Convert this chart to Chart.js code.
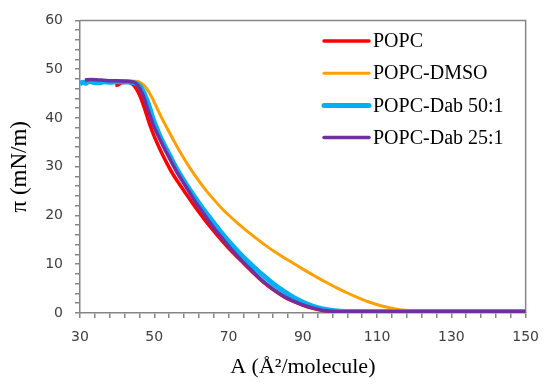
<!DOCTYPE html>
<html>
<head>
<meta charset="utf-8">
<script src="https://cdn.jsdelivr.net/npm/chart.js@4"></script>
<style>
  html, body { margin: 0; padding: 0; background: #fff; }
</style>
</head>
<body>
<canvas id="isoChart" width="550" height="387"></canvas>
<script>
// isotherm data: area per molecule (A) vs surface pressure (pi)
const seriesLabels = ['POPC', 'POPC-DMSO', 'POPC-Dab 50:1', 'POPC-Dab 25:1'];

const popcA  = [39.5, 40.3, 41.2, 43, 44.3, 45.2, 46.1, 47.4, 48.8, 50.1, 51.4, 53.2, 55, 56.8, 58.6, 60.5, 62.5, 64.5, 67, 70, 73, 76, 79, 82, 85, 88, 91, 94, 97, 100, 150];
const popcPi = [46.7, 46.8, 47.2, 47.3, 46.8, 45.9, 44.6, 41.9, 38.6, 36.0, 33.8, 31.0, 28.5, 26.4, 24.4, 22.3, 20.2, 18.2, 15.9, 13.3, 11.0, 8.7, 6.6, 4.8, 3.3, 2.2, 1.3, 0.7, 0.35, 0.2, 0.2];

const dmsoA  = [38, 42, 45, 46.1, 47.2, 48.3, 49.5, 50.5, 52, 54, 56, 58, 60, 62, 64, 66, 68, 70, 72.5, 75, 78, 81, 84, 87, 90, 93, 96, 99, 102, 105, 108, 111, 114, 117, 120, 125, 150];
const dmsoPi = [47.5, 47.5, 47.5, 47.3, 46.7, 45.6, 44.0, 42.4, 40.0, 37.1, 34.3, 31.7, 29.3, 27.1, 25.1, 23.3, 21.6, 20.1, 18.4, 16.8, 15.0, 13.3, 11.8, 10.4, 9.0, 7.7, 6.4, 5.2, 4.1, 3.1, 2.2, 1.5, 1.0, 0.6, 0.4, 0.3, 0.3];

const dab50A  = [30, 30.8, 31.5, 32.5, 33.5, 35, 36.5, 38, 40, 42, 44, 45, 46.1, 47, 47.9, 48.8, 49.6, 50.5, 51.4, 52.7, 54.1, 55.5, 56.8, 58.6, 60.5, 62.5, 64.5, 66.5, 68.5, 70.5, 73, 76, 79, 82, 85, 88, 91, 94, 97, 100, 104, 150];
const dab50Pi = [47.0, 47.3, 47.1, 47.5, 47.3, 47.2, 47.4, 47.3, 47.4, 47.4, 47.3, 47.1, 46.6, 45.5, 43.9, 42.0, 40.0, 38.2, 36.5, 34.4, 32.4, 30.3, 28.6, 26.4, 24.2, 22.0, 20.0, 18.0, 16.1, 14.3, 12.2, 10.0, 7.9, 6.0, 4.4, 3.0, 1.9, 1.1, 0.6, 0.35, 0.3, 0.3];

const dab25A  = [31.3, 33, 35, 37, 40, 43, 44.3, 45.2, 46.1, 47, 47.9, 48.8, 49.6, 50.5, 51.9, 53.2, 54.6, 56, 57.7, 59.5, 61.3, 63.2, 65.5, 68, 70.5, 73, 76, 79, 82, 85, 88, 91, 94, 97, 100, 150];
const dab25Pi = [47.8, 47.9, 47.8, 47.7, 47.6, 47.5, 47.4, 47.0, 46.0, 44.6, 42.6, 40.6, 38.8, 37.2, 35.0, 33.0, 31.0, 29.0, 26.9, 24.7, 22.5, 20.5, 18.0, 15.6, 13.3, 11.2, 8.9, 6.7, 4.9, 3.4, 2.3, 1.4, 0.8, 0.4, 0.25, 0.25];

const xMin = 30, xMax = 150, xStep = 4, xLabelStep = 20;
const yMin = 0, yMax = 60, yStep = 2, yLabelStep = 10;

const toPoints = (xs, ys) => xs.map((x, i) => ({ x: x, y: ys[i] }));

const axisGray = '#868686';
const serif = '"Liberation Serif", "Times New Roman", serif';

// box around plot area (top + right edges)
const framePlugin = {
  id: 'frame',
  beforeDatasetsDraw(chart) {
    const { ctx, chartArea: a } = chart;
    ctx.save();
    ctx.strokeStyle = axisGray;
    ctx.lineWidth = 1.5;
    ctx.beginPath();
    ctx.moveTo(a.left, a.top);
    ctx.lineTo(a.right, a.top);
    ctx.lineTo(a.right, a.bottom);
    ctx.stroke();
    ctx.restore();
  }
};

// legend drawn inside the plot, top right
const insideLegend = {
  id: 'insideLegend',
  afterDraw(chart) {
    const ctx = chart.ctx;
    ctx.save();
    ctx.font = '20px ' + serif;
    ctx.textBaseline = 'middle';
    ctx.fillStyle = '#000';
    chart.data.datasets.forEach((ds, i) => {
      const y = 41 + i * 32.2;
      ctx.strokeStyle = ds.borderColor;
      ctx.lineWidth = ds.borderWidth;
      ctx.lineCap = 'round';
      ctx.beginPath();
      ctx.moveTo(324, y);
      ctx.lineTo(369, y);
      ctx.stroke();
      ctx.fillText(ds.label, 373, y + 1);
    });
    ctx.restore();
  }
};

const ctx = document.getElementById('isoChart').getContext('2d');
new Chart(ctx, {
  type: 'line',
  data: {
    datasets: [
      { label: seriesLabels[0], data: toPoints(popcA, popcPi),   borderColor: '#FF0000', borderWidth: 3.5, order: 4 },
      { label: seriesLabels[1], data: toPoints(dmsoA, dmsoPi),   borderColor: '#FFA000', borderWidth: 3, order: 3 },
      { label: seriesLabels[2], data: toPoints(dab50A, dab50Pi), borderColor: '#00B0F0', borderWidth: 5, order: 2 },
      { label: seriesLabels[3], data: toPoints(dab25A, dab25Pi), borderColor: '#7030A0', borderWidth: 3.5, order: 1 },
    ].map(ds => Object.assign(ds, { pointRadius: 0, fill: false, cubicInterpolationMode: 'monotone' })),
  },
  options: {
    responsive: false,
    animation: false,
    layout: { padding: { top: 15, right: 22, left: 0, bottom: 0 } },
    plugins: {
      legend: { display: false },
      tooltip: { enabled: false },
    },
    scales: {
      x: {
        type: 'linear',
        min: xMin,
        max: xMax,
        afterBuildTicks: (scale) => {
          const t = [];
          for (let v = xMin; v <= xMax; v += xStep) t.push({ value: v });
          scale.ticks = t;
        },
        afterFit: (scale) => { scale.height = 74; },
        ticks: {
          autoSkip: false,
          maxRotation: 0,
          padding: 11,
          color: '#404040',
          font: { family: 'DejaVu Sans', size: 14 },
          callback: (v) => ((v - xMin) % xLabelStep === 0 ? v : ''),
        },
        grid: { drawOnChartArea: false, drawTicks: true, tickLength: 5, color: axisGray, lineWidth: 1.5 },
        border: { color: axisGray, width: 1.5 },
        title: {
          display: true,
          text: 'A (Å²/molecule)',
          color: '#000',
          font: { family: serif, size: 22 },
          padding: { top: 0, bottom: 7 },
        },
      },
      y: {
        type: 'linear',
        min: yMin,
        max: yMax,
        afterBuildTicks: (scale) => {
          const t = [];
          for (let v = yMin; v <= yMax; v += yStep) t.push({ value: v });
          scale.ticks = t;
        },
        afterFit: (scale) => { scale.width = 80; },
        ticks: {
          autoSkip: false,
          padding: 12,
          color: '#404040',
          font: { family: 'DejaVu Sans', size: 14 },
          callback: (v) => (v % yLabelStep === 0 ? v : ''),
        },
        grid: { drawOnChartArea: false, drawTicks: true, tickLength: 5, color: axisGray, lineWidth: 1.5 },
        border: { color: axisGray, width: 1.5 },
        title: {
          display: true,
          text: 'π (mN/m)',
          color: '#000',
          font: { family: serif, size: 23 },
          padding: { top: 6, bottom: 0 },
        },
      },
    },
  },
  plugins: [framePlugin, insideLegend],
});
</script>
</body>
</html>
